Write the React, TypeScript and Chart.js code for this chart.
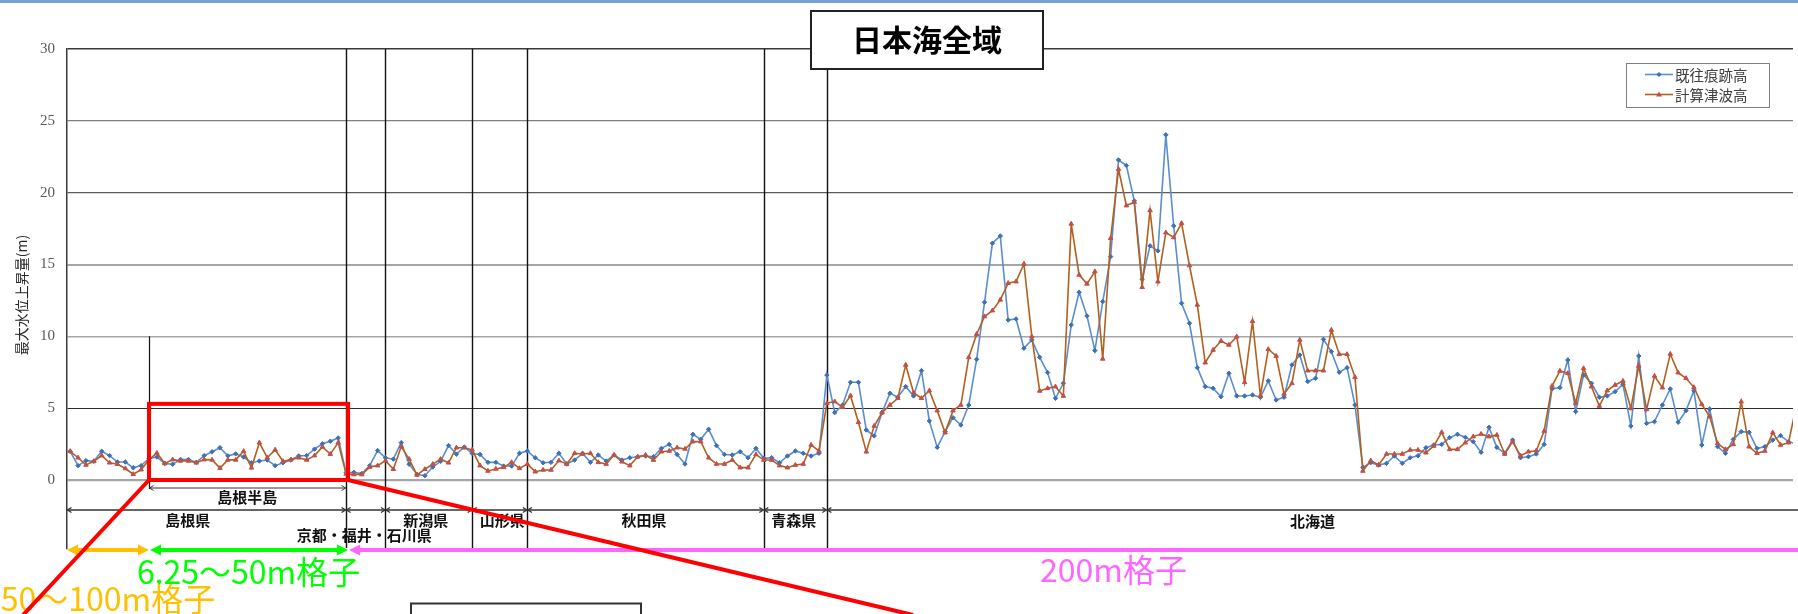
import React, { useEffect, useRef } from "react";
import { Chart, registerables } from "chart.js";

Chart.register(...registerables);

// ---------- data ----------
const seriesNames = ["既往痕跡高", "計算津波高"];

const observedHeights = [
  2.0, 1.0, 1.35, 1.3, 2.0, 1.7, 1.25, 1.25, 0.85, 1.0,
  1.5, 1.6, 1.15, 1.1, 1.43, 1.43, 1.23, 1.7, 1.97, 2.25,
  1.68, 1.82, 1.6, 1.2, 1.32, 1.39, 1.0, 1.2, 1.39, 1.68,
  1.7, 2.15, 2.52, 2.7, 2.93, 0.5, 0.53, 0.45, 1.0, 2.05,
  1.55, 1.45, 2.6, 1.1, 0.4, 0.3, 0.9, 1.3, 2.4, 1.8,
  2.3, 1.85, 1.78, 1.23, 1.23, 0.97, 0.97, 1.86, 2.02, 1.55,
  1.2, 1.23, 1.86, 1.11, 1.39, 1.86, 1.23, 1.74, 1.32, 1.74,
  1.39, 1.55, 1.62, 1.67, 1.62, 2.2, 2.48, 1.78, 1.11, 3.18,
  2.83, 3.53, 2.39, 1.78, 1.74, 1.97, 1.55, 2.2, 1.51, 1.55,
  1.2, 1.67, 2.02, 1.86, 1.67, 1.86, 7.31, 4.69, 5.22, 6.8,
  6.8, 3.48, 3.07, 4.69, 6.04, 5.76, 6.5, 5.85, 7.61, 4.11,
  2.27, 3.37, 4.34, 3.83, 5.22, 8.4, 12.37, 16.48, 16.99, 11.14,
  11.21, 9.17, 9.75, 8.54, 7.48, 5.69, 6.73, 10.79, 13.07, 11.42,
  9.01, 12.42, 15.55, 22.28, 21.89, 19.43, 13.97, 16.3, 15.95, 24.03,
  17.69, 12.3, 10.91, 7.82, 6.5, 6.38, 5.8, 7.43, 5.85, 5.85,
  5.92, 5.76, 6.9, 5.57, 5.76, 8.01, 8.7, 6.85, 7.08, 9.79,
  8.94, 7.5, 7.82, 5.22, 0.88, 1.21, 1.04, 1.16, 1.67, 1.16,
  1.55, 1.69, 2.25, 2.44, 2.48, 2.95, 3.18, 2.97, 2.67, 1.93,
  3.67, 2.27, 1.86, 2.78, 1.55, 1.62, 1.81, 2.48, 6.34, 6.43,
  8.35, 4.76, 7.31, 6.73, 5.76, 5.85, 6.15, 6.66, 3.76, 8.63,
  3.94, 4.06, 5.22, 6.34, 4.02, 4.83, 6.22, 2.44, 4.94, 2.32,
  1.86, 2.83, 3.37, 3.32, 2.2, 2.32, 2.78, 3.09, 2.67, 2.5,
];

const computedHeights = [
  2.0, 1.55, 1.05, 1.3, 1.7, 1.2, 1.1, 0.8, 0.4, 0.72,
  1.4, 1.88, 1.15, 1.42, 1.33, 1.33, 1.2, 1.42, 1.4, 0.83,
  1.4, 1.4, 2.0, 0.85, 2.6, 1.55, 2.1, 1.3, 1.42, 1.55,
  1.4, 1.7, 2.3, 1.8, 2.6, 0.42, 0.38, 0.38, 0.9, 1.0,
  1.35, 0.75, 2.33, 1.45, 0.35, 0.75, 1.1, 1.45, 1.2, 2.25,
  2.25, 2.1, 1.0, 0.63, 0.77, 0.88, 1.23, 0.81, 1.11, 0.58,
  0.7, 0.7, 1.35, 1.11, 1.86, 1.81, 1.86, 1.23, 1.11, 1.74,
  1.27, 1.0, 1.62, 1.74, 1.39, 1.97, 2.02, 2.25, 2.16, 2.67,
  2.67, 1.55, 1.11, 1.11, 1.39, 0.86, 0.86, 1.78, 1.39, 1.39,
  1.0, 0.86, 1.04, 1.11, 2.44, 2.02, 5.34, 5.46, 5.06, 5.87,
  4.02, 1.97, 3.76, 4.69, 5.22, 5.69, 8.01, 6.08, 5.69, 6.22,
  4.83, 3.3, 4.83, 5.22, 8.54, 10.15, 11.38, 11.79, 12.54, 13.7,
  13.81, 15.04, 9.98, 6.2, 6.38, 6.5, 5.85, 17.83, 14.28, 13.65,
  14.51, 8.43, 16.83, 21.63, 19.1, 19.34, 13.42, 18.76, 13.81, 17.22,
  16.88, 17.87, 14.93, 12.19, 8.17, 9.05, 9.68, 9.4, 9.98, 6.8,
  11.05, 5.87, 9.1, 8.63, 5.99, 6.73, 9.75, 7.61, 7.61, 7.61,
  10.44, 8.75, 8.75, 7.15, 0.63, 1.35, 1.04, 1.81, 1.81, 1.81,
  2.09, 2.09, 1.9, 2.37, 3.32, 2.13, 2.13, 2.6, 3.02, 3.2,
  3.02, 3.13, 1.81, 2.67, 1.69, 1.97, 2.04, 3.41, 6.54, 7.59,
  7.43, 5.34, 7.77, 6.5, 5.15, 6.22, 6.61, 6.89, 4.99, 7.94,
  4.92, 7.24, 6.43, 8.77, 7.47, 7.08, 6.45, 5.27, 4.41, 2.55,
  2.13, 2.48, 5.45, 2.32, 1.86, 2.02, 3.3, 2.44, 2.6, 5.2,
];

const yTickValues = [0, 5, 10, 15, 20, 25, 30];
const chartTitle = "日本海全域";
const yAxisTitle = "最大水位上昇量(m)";
const regionNames = ["島根県", "京都・福井・石川県", "新潟県", "山形県", "秋田県", "青森県", "北海道"];
const regionBoundaryIndex = [35, 40, 51, 58, 88, 96];
const peninsulaName = "島根半島";
const peninsulaIndex = [10, 35];
const gridLabels = ["50～100m格子", "6.25～50m格子", "200m格子"];

// ---------- layout (decoration only) ----------
const W = 1798;
const H = 614;
const CJK = '"Noto Sans CJK JP", "Noto Sans", sans-serif';
const regionLabelAt: [number, number][] = [
  [14.9, 520], [37.3, 535], [45.1, 520], [54.8, 520], [72.8, 520], [91.8, 520], [157.6, 521],
];
const gridStyle: Record<number, [string, number]> = {
  30: ["#3a3a3a", 1.5],
  25: ["#808080", 1.2],
  20: ["#5c5c5c", 1.2],
  15: ["#a6a6a6", 2],
  10: ["#a6a6a6", 1.6],
  5: ["#2e2e2e", 1.1],
  0: ["#a6a6a6", 2.2],
};
const BLUE_LINE = "#5a8ed0";
const BLUE_MARK = "#3e70b5";
const RED_LINE = "#b3601e";
const RED_MARK = "#c0504d";

function line(ctx: CanvasRenderingContext2D, x1: number, y1: number, x2: number, y2: number) {
  ctx.beginPath();
  ctx.moveTo(x1, y1);
  ctx.lineTo(x2, y2);
  ctx.stroke();
}

function fatArrow(
  ctx: CanvasRenderingContext2D, x1: number, x2: number, y: number, color: string,
  leftHead: boolean, rightHead: boolean
) {
  const hl = 11, hw = 5.5;
  ctx.save();
  ctx.strokeStyle = color;
  ctx.fillStyle = color;
  ctx.lineWidth = 4;
  line(ctx, leftHead ? x1 + hl - 1 : x1, y, rightHead ? x2 - hl + 1 : x2, y);
  if (leftHead) {
    ctx.beginPath();
    ctx.moveTo(x1, y);
    ctx.lineTo(x1 + hl, y - hw);
    ctx.lineTo(x1 + hl, y + hw);
    ctx.closePath();
    ctx.fill();
  }
  if (rightHead) {
    ctx.beginPath();
    ctx.moveTo(x2, y);
    ctx.lineTo(x2 - hl, y - hw);
    ctx.lineTo(x2 - hl, y + hw);
    ctx.closePath();
    ctx.fill();
  }
  ctx.restore();
}

function smallHead(ctx: CanvasRenderingContext2D, x: number, y: number, dir: number) {
  ctx.beginPath();
  ctx.moveTo(x - dir * 4, y - 2.5);
  ctx.lineTo(x, y);
  ctx.lineTo(x - dir * 4, y + 2.5);
  ctx.stroke();
}

function bracket(ctx: CanvasRenderingContext2D, x1: number, x2: number, y: number) {
  line(ctx, x1, y, x2, y);
  smallHead(ctx, x1, y, -1);
  smallHead(ctx, x2, y, 1);
}

const overlay = {
  id: "overlay",
  beforeDraw(chart: any) {
    const ctx = chart.ctx;
    ctx.save();
    ctx.fillStyle = "#ffffff";
    ctx.fillRect(0, 0, chart.width, chart.height);
    ctx.restore();
  },
  beforeDatasetsDraw(chart: any) {
    const ctx: CanvasRenderingContext2D = chart.ctx;
    const { top, bottom } = chart.chartArea;
    const X = (i: number) => chart.scales.x.getPixelForValue(i);
    const Y = (v: number) => chart.scales.y.getPixelForValue(v);
    ctx.save();
    ctx.strokeStyle = "#111111";
    ctx.lineWidth = 1.4;
    for (const b of regionBoundaryIndex) {
      const x = Math.round(X(b)) + 0.5;
      line(ctx, x, top, x, bottom);
    }
    const xp = Math.round(X(peninsulaIndex[0])) + 0.5;
    ctx.lineWidth = 1.2;
    line(ctx, xp, Y(10), xp, Y(0) + 9);
    ctx.restore();
  },
  afterDraw(chart: any) {
    const ctx: CanvasRenderingContext2D = chart.ctx;
    const { left, bottom } = chart.chartArea;
    const X = (i: number) => chart.scales.x.getPixelForValue(i);
    const Y = (v: number) => chart.scales.y.getPixelForValue(v);
    const y0 = Y(0);

    ctx.save();
    // top blue band
    ctx.fillStyle = "#76a0d6";
    ctx.fillRect(0, 0, W, 3);

    // y axis title
    ctx.save();
    ctx.translate(21.5, 295);
    ctx.rotate(-Math.PI / 2);
    ctx.fillStyle = "#262626";
    ctx.font = `14px ${CJK}`;
    ctx.textAlign = "center";
    ctx.textBaseline = "middle";
    ctx.fillText(yAxisTitle, 0, 0);
    ctx.restore();

    // region bracket line
    ctx.strokeStyle = "#333333";
    ctx.lineWidth = 1.3;
    const yReg = y0 + 30;
    const edges = [left, ...regionBoundaryIndex.map((b) => X(b)), W + 20];
    for (let i = 0; i < edges.length - 1; i++) bracket(ctx, edges[i] + 0.5, edges[i + 1] - 0.5, yReg);
    // peninsula bracket
    ctx.lineWidth = 1;
    bracket(ctx, X(peninsulaIndex[0]) + 0.5, X(peninsulaIndex[1]) - 0.5, y0 + 8);

    // labels
    ctx.fillStyle = "#111111";
    ctx.font = `bold 15px ${CJK}`;
    ctx.textAlign = "center";
    ctx.textBaseline = "middle";
    ctx.fillText(peninsulaName, X((peninsulaIndex[0] + peninsulaIndex[1]) / 2 - 0.05), y0 + 17);
    regionNames.forEach((name, i) => {
      const [xi, py] = regionLabelAt[i];
      ctx.fillText(name, X(xi), py);
    });

    // grid size arrows
    const yArr = bottom + 2;
    const xa = X(peninsulaIndex[0]);
    const xb = X(peninsulaIndex[1]) + 2;
    fatArrow(ctx, left, xa, yArr, "#ffc000", true, true);
    fatArrow(ctx, xa + 1, xb, yArr, "#00ff00", true, true);
    fatArrow(ctx, xb + 1, W + 30, yArr, "#ff66ff", true, false);

    ctx.font = `32px ${CJK}`;
    ctx.textBaseline = "alphabetic";
    ctx.textAlign = "center";
    ctx.fillStyle = "#ffc000";
    ctx.fillText(gridLabels[0], (left + xa) / 2, 611);
    ctx.fillStyle = "#00ff00";
    ctx.fillText(gridLabels[1], (xa + xb) / 2, 584);
    ctx.fillStyle = "#ff66ff";
    ctx.textAlign = "left";
    ctx.fillText(gridLabels[2], 1040, 582);

    // red zoom rectangle and leader lines
    ctx.strokeStyle = "#ff0000";
    ctx.lineWidth = 4;
    const rTop = Y(5.3);
    ctx.strokeRect(xa, rTop, xb - xa, y0 - rTop);
    line(ctx, xa, y0, 23, H + 1);
    line(ctx, xb, y0, 913, H + 1);

    // lower box (partly visible)
    ctx.fillStyle = "#ffffff";
    ctx.fillRect(411, 603, 230, 30);
    ctx.strokeStyle = "#333333";
    ctx.lineWidth = 2;
    ctx.strokeRect(411, 603.5, 230, 30);

    // title box
    ctx.fillStyle = "#ffffff";
    ctx.fillRect(811, 11, 232, 58);
    ctx.strokeStyle = "#222222";
    ctx.lineWidth = 2;
    ctx.strokeRect(811, 11, 232, 58);
    ctx.fillStyle = "#000000";
    ctx.font = `bold 30px ${CJK}`;
    ctx.textAlign = "center";
    ctx.textBaseline = "middle";
    ctx.fillText(chartTitle, 927, 40);

    // legend
    ctx.fillStyle = "#ffffff";
    ctx.fillRect(1626, 63, 143, 44);
    ctx.strokeStyle = "#808080";
    ctx.lineWidth = 1;
    ctx.strokeRect(1626.5, 63.5, 143, 44);
    const rows: [string, string, string, number][] = [
      [seriesNames[0], BLUE_LINE, BLUE_MARK, 74.5],
      [seriesNames[1], RED_LINE, RED_MARK, 94.5],
    ];
    rows.forEach(([name, lc, mc, y], i) => {
      ctx.strokeStyle = lc;
      ctx.lineWidth = 1.6;
      line(ctx, 1645, y, 1673, y);
      ctx.fillStyle = mc;
      ctx.beginPath();
      if (i === 0) {
        ctx.moveTo(1659, y - 2.6);
        ctx.lineTo(1661.6, y);
        ctx.lineTo(1659, y + 2.6);
        ctx.lineTo(1656.4, y);
      } else {
        ctx.moveTo(1659, y - 3);
        ctx.lineTo(1662, y + 2);
        ctx.lineTo(1656, y + 2);
      }
      ctx.closePath();
      ctx.fill();
      ctx.fillStyle = "#404040";
      ctx.font = `14.5px ${CJK}`;
      ctx.textAlign = "left";
      ctx.textBaseline = "middle";
      ctx.fillText(name, 1675, y + 0.5);
    });
    ctx.restore();
  },
};

export default function App() {
  const ref = useRef<HTMLCanvasElement>(null);

  useEffect(() => {
    document.body.style.margin = "0";
    document.body.style.overflow = "hidden";
    const canvas = ref.current;
    if (!canvas) return;

    const x0 = 70.2;
    const step = 7.905;
    const chart = new Chart(canvas, {
      type: "line",
      data: {
        datasets: [
          {
            label: seriesNames[1],
            data: computedHeights.map((v, i) => ({ x: i, y: v })),
            borderColor: RED_LINE,
            backgroundColor: RED_MARK,
            pointBackgroundColor: RED_MARK,
            pointBorderColor: RED_MARK,
            pointStyle: "triangle",
            pointRadius: 2.6,
            pointBorderWidth: 1,
            borderWidth: 1.6,
            tension: 0,
            order: 0,
          },
          {
            label: seriesNames[0],
            data: observedHeights.map((v, i) => ({ x: i, y: v })),
            borderColor: BLUE_LINE,
            backgroundColor: BLUE_MARK,
            pointBackgroundColor: BLUE_MARK,
            pointBorderColor: BLUE_MARK,
            pointStyle: "rectRot",
            pointRadius: 2.2,
            pointBorderWidth: 1,
            borderWidth: 1.6,
            tension: 0,
            order: 1,
          },
        ],
      },
      options: {
        responsive: false,
        animation: false,
        devicePixelRatio: 1,
        layout: { padding: { left: 0, right: 0, top: 49, bottom: 66 } },
        plugins: {
          legend: { display: false },
          tooltip: { enabled: false },
          title: { display: false },
        },
        scales: {
          x: {
            type: "linear",
            display: false,
            min: (67 - x0) / step,
            max: (W - x0) / step,
          },
          y: {
            type: "linear",
            min: -4.733,
            max: 30,
            afterBuildTicks: (s: any) => {
              s.ticks = yTickValues.map((v) => ({ value: v }));
            },
            afterFit: (s: any) => {
              s.width = 67;
            },
            ticks: {
              padding: 12,
              color: "#595959",
              font: { family: '"Liberation Serif", serif', size: 15 },
            },
            grid: {
              drawTicks: false,
              color: (c: any) => (gridStyle[c.tick?.value] || ["#a6a6a6", 1])[0],
              lineWidth: (c: any) => (gridStyle[c.tick?.value] || ["#a6a6a6", 1])[1],
            },
            border: { color: "#3a3a3a", width: 1.5 },
          },
        },
      },
      plugins: [overlay],
    } as any);

    return () => chart.destroy();
  }, []);

  return <canvas ref={ref} width={W} height={H} style={{ display: "block" }} />;
}
